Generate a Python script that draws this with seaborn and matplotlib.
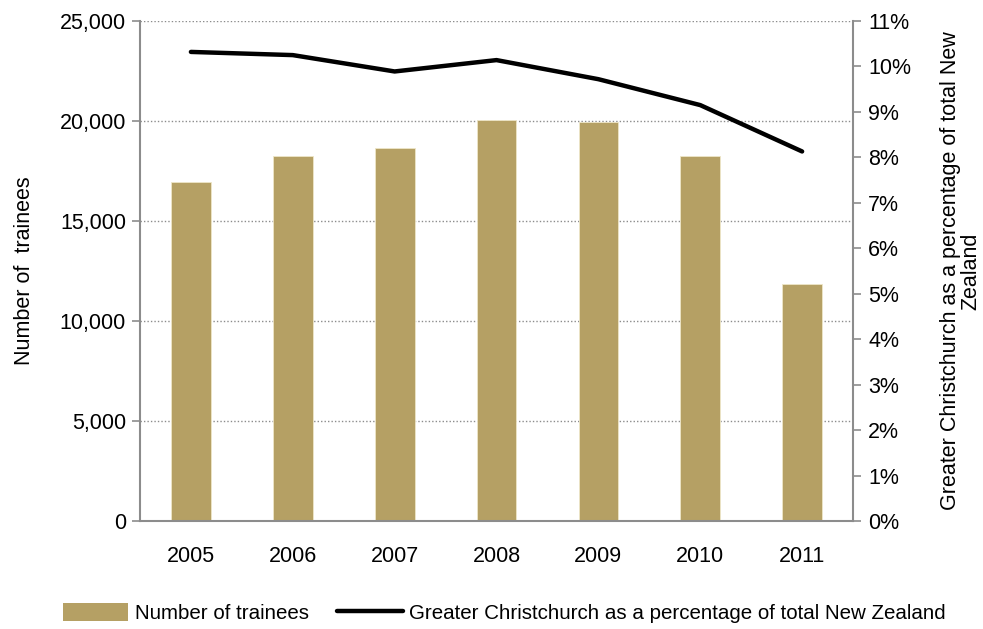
import numpy as np
import pandas as pd
import matplotlib.pyplot as plt
import seaborn as sns
from matplotlib.ticker import FuncFormatter, MultipleLocator, FixedLocator
from matplotlib.patches import Patch
from matplotlib.lines import Line2D

# ── data ───────────────────────────────────────────────────────────────
YEARS    = ["2005", "2006", "2007", "2008", "2009", "2010", "2011"]
TRAINEES = [16950, 18250, 18650, 20050, 19950, 18250, 11850]
SHARE    = [10.32, 10.25, 9.89, 10.14, 9.72, 9.15, 8.13]

BAR_COL  = "#B5A064"
AX_COL   = "#8C8C8C"
FONT     = ["Liberation Sans", "DejaVu Sans"]
FS       = 15.5

sns.set_style("white")
plt.rcParams["font.family"] = FONT
plt.rcParams["font.size"] = FS
plt.rcParams["text.color"] = "black"
plt.rcParams["axes.labelcolor"] = "black"
plt.rcParams["xtick.color"] = "black"
plt.rcParams["ytick.color"] = "black"

df = pd.DataFrame({"year": YEARS, "trainees": TRAINEES, "share": SHARE})

fig = plt.figure(figsize=(9.83, 6.29), dpi=100)
ax = fig.add_axes([0.1424, 0.1717, 0.7254, 0.7949])

sns.barplot(data=df, x="year", y="trainees", color=BAR_COL, saturation=1,
            width=0.39, edgecolor="#EEE6C8", linewidth=0.6, ax=ax, zorder=2)
ax.set_ylim(0, 25000)
ax.set_xlim(-0.5, len(YEARS) - 0.5)
ax.yaxis.set_major_locator(MultipleLocator(5000))
ax.yaxis.set_major_formatter(FuncFormatter(lambda v, p: f"{int(v):,}"))
ax.grid(axis="y", color="#8C8C8C", ls=(0, (1, 1.5)), lw=1.0, zorder=0)
ax.set_axisbelow(True)
ax.set_xlabel("")
ax.set_ylabel("Number of  trainees", fontsize=FS, labelpad=18)

# category boundary ticks on x axis
ax.xaxis.set_major_locator(FixedLocator(np.arange(len(YEARS))))
ax.xaxis.set_minor_locator(FixedLocator(np.arange(-0.5, len(YEARS), 1.0)))
ax.tick_params(axis="x", which="major", length=0, pad=18, labelsize=FS, colors="black")
ax.tick_params(axis="x", which="minor", length=6, width=1.2, color=AX_COL, direction="out")
ax.tick_params(axis="y", length=6, width=1.2, color=AX_COL, labelcolor="black",
               direction="out", labelsize=FS, pad=4)

for side in ["top", "right"]:
    ax.spines[side].set_visible(False)
for side in ["left", "bottom"]:
    ax.spines[side].set_color(AX_COL)
    ax.spines[side].set_linewidth(1.5)

# ── secondary axis: share line ─────────────────────────────────────────
ax2 = ax.twinx()
sns.lineplot(x=np.arange(len(YEARS)), y=df["share"], color="black", lw=3.2,
             ax=ax2, zorder=3)
ax2.set_ylim(0, 11)
ax2.yaxis.set_major_locator(MultipleLocator(1))
ax2.yaxis.set_major_formatter(FuncFormatter(lambda v, p: f"{int(round(v))}%"))
ax2.tick_params(axis="y", length=6, width=1.2, color=AX_COL, labelcolor="black",
                direction="out", labelsize=FS, pad=5)
ax2.set_ylabel("Greater Christchurch as a percentage of total New\nZealand",
               fontsize=FS, linespacing=0.9, labelpad=21)
ax2.set_xlim(-0.5, len(YEARS) - 0.5)
for side in ["top", "left", "bottom"]:
    ax2.spines[side].set_visible(False)
ax2.spines["right"].set_color(AX_COL)
ax2.spines["right"].set_linewidth(1.5)

# ── legend ─────────────────────────────────────────────────────────────
handles = [Patch(facecolor=BAR_COL, edgecolor="none"),
           Line2D([0], [0], color="black", lw=3.2)]
labels = ["Number of trainees",
          "Greater Christchurch as a percentage of total New Zealand"]
fig.legend(handles, labels, loc="center", bbox_to_anchor=(0.513, 0.026),
           ncol=2, frameon=False, fontsize=14.8, handlelength=3.2,
           handleheight=1.0, handletextpad=0.3, columnspacing=1.4)

fig.savefig("out.png", dpi=100, facecolor="white")
